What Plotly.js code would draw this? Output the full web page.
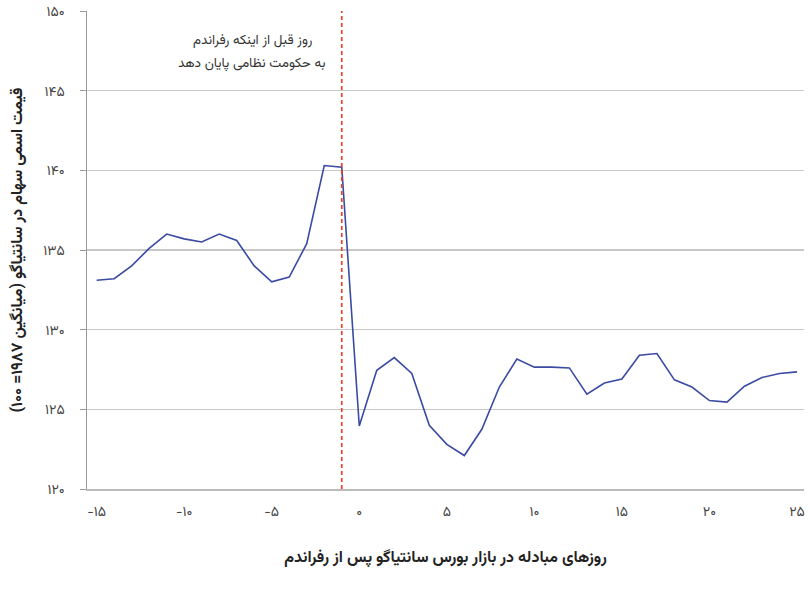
<!DOCTYPE html>
<html>
<head>
<meta charset="utf-8">
<script src="https://cdn.plot.ly/plotly-3.0.1.min.js"></script>
<style>html,body{margin:0;padding:0;background:#fff;}#chart{width:810px;height:606px;}</style>
</head>
<body>
<div id="chart"></div>
<script>
// Trading days relative to referendum
const days = [-15,-14,-13,-12,-11,-10,-9,-8,-7,-6,-5,-4,-3,-2,-1,0,1,2,3,4,5,6,7,8,9,10,11,12,13,14,15,16,17,18,19,20,21,22,23,24,25];
// Nominal share price index in Santiago (1987 average = 100)
const prices = [133.1,133.2,134.0,135.1,136.0,135.7,135.5,136.0,135.6,134.0,133.0,133.3,135.4,140.3,140.2,
  123.95,127.45,128.25,127.25,124.0,122.8,122.1,123.75,126.4,128.15,127.65,127.65,127.6,125.95,126.65,126.9,128.4,128.5,126.85,126.4,125.55,125.45,126.45,127.0,127.25,127.35];
const xTickVals = [-15,-10,-5,0,5,10,15,20,25];
const xTickText = ['−۱۵','−۱۰','−۵','۰','۵','۱۰','۱۵','۲۰','۲۵'];
const yTickVals = [120,125,130,135,140,145,150];
const yTickText = ['۱۲۰','۱۲۵','۱۳۰','۱۳۵','۱۴۰','۱۴۵','۱۵۰'];
const eventDay = -1;
const annotationLines = ['\u200Fروز قبل از اینکه رفراندم\u200F', '\u200Fبه حکومت نظامی پایان دهد\u200F'];
const xTitle = '\u200Fروزهای مبادله در بازار بورس سانتیاگو پس از رفراندم\u200F';
const yTitle = '\u200Fقیمت اسمی سهام در سانتیاگو (میانگین ۱۹۸۷= ۱۰۰)\u200F';

const font = 'Vazirmatn, "Noto Sans Arabic", "DejaVu Sans", sans-serif';

const trace = {
  x: days, y: prices, type: 'scatter', mode: 'lines',
  line: {color: '#3b4aa3', width: 1.6},
  hoverinfo: 'skip'
};

const layout = {
  width: 810, height: 606,
  margin: {l: 87, r: 6, t: 11, b: 117},
  paper_bgcolor: '#fff', plot_bgcolor: '#fff',
  showlegend: false,
  font: {family: font, color: '#444', size: 13},
  xaxis: {
    range: [-15.55, 25.4],
    tickvals: xTickVals, ticktext: xTickText,
    showgrid: false, zeroline: false,
    showline: true, linecolor: '#bbbbbb', linewidth: 2,
    ticks: '', ticklabelstandoff: 8,
    tickfont: {family: font, size: 14, color: '#444'},
    title: {text: xTitle, font: {family: font, size: 16, color: '#222', weight: 'bold'}, standoff: 28}
  },
  yaxis: {
    range: [120, 150],
    tickvals: yTickVals, ticktext: yTickText,
    showgrid: true, gridcolor: '#c8c8c8', gridwidth: 1.2,
    zeroline: false,
    showline: true, linecolor: '#999999', linewidth: 1.5,
    ticks: 'outside', ticklen: 6, tickcolor: '#999999',
    ticklabelstandoff: 12,
    tickfont: {family: font, size: 14, color: '#444'},
    title: {text: yTitle, font: {family: font, size: 16, color: '#222', weight: 'bold'}, standoff: 16}
  },
  shapes: [{
    type: 'line', xref: 'x', yref: 'paper',
    x0: eventDay, x1: eventDay, y0: 0, y1: 1,
    line: {color: '#e8432c', width: 1.7, dash: '4px,3px'}
  }],
  annotations: [
    {x: -6.1, y: 147.4, xref: 'x', yref: 'y', yanchor: 'bottom', borderpad: 0, text: annotationLines[0], showarrow: false,
     font: {family: font, size: 13.5, color: '#333'}},
    {x: -6.1, y: 147.4, xref: 'x', yref: 'y', yanchor: 'top', borderpad: 0, text: annotationLines[1], showarrow: false,
     font: {family: font, size: 13.5, color: '#333'}}
  ]
};

Plotly.newPlot('chart', [trace], layout, {staticPlot: true, displayModeBar: false});
</script>
</body>
</html>
